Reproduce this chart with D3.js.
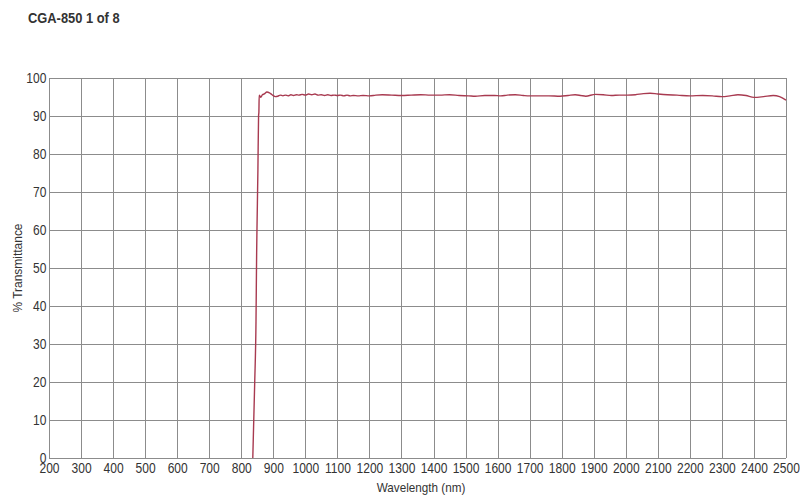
<!DOCTYPE html>
<html>
<head>
<meta charset="utf-8">
<script src="https://cdn.jsdelivr.net/npm/d3@7/dist/d3.min.js"></script>
<style>
  body { margin: 0; background: #fff; }
  svg { display: block; }
  text { font-family: "Liberation Sans", Arial, sans-serif; fill: #333; }
</style>
</head>
<body>
<svg id="chart" width="800" height="499"></svg>
<script>
const title = "CGA-850 1 of 8";
const xLabel = "Wavelength (nm)";
const yLabel = "% Transmittance";
const xTicks = [200,300,400,500,600,700,800,900,1000,1100,1200,1300,1400,1500,1600,1700,1800,1900,2000,2100,2200,2300,2400,2500];
const yTicks = [0,10,20,30,40,50,60,70,80,90,100];
const wavelength = [836,839,842,846,848,849,852,854,855,856,858,861,866,872,880,888,896,906,914,922,930,938,946,955,963,972,980,990,1000,1010,1020,1030,1040,1050,1060,1070,1080,1090,1100,1110,1120,1130,1140,1150,1165,1180,1200,1220,1240,1270,1300,1330,1360,1390,1420,1450,1480,1510,1530,1560,1590,1610,1630,1655,1680,1700,1730,1760,1795,1820,1842,1860,1875,1905,1930,1955,1980,2005,2030,2055,2076,2100,2130,2160,2200,2240,2270,2300,2325,2350,2375,2400,2430,2460,2480,2500];
const transmittance = [0,10,20,36,54,60,76,90,91,95.5,95.3,94.9,95.6,95.8,96.3,96.1,95.6,95.1,95.2,95.5,95.3,95.5,95.3,95.6,95.4,95.6,95.5,95.7,95.5,95.8,95.6,95.8,95.5,95.6,95.4,95.6,95.4,95.5,95.4,95.5,95.3,95.5,95.3,95.4,95.3,95.4,95.3,95.5,95.6,95.5,95.4,95.5,95.6,95.5,95.5,95.6,95.4,95.3,95.2,95.4,95.4,95.3,95.5,95.6,95.4,95.3,95.3,95.3,95.2,95.4,95.6,95.4,95.2,95.7,95.6,95.4,95.5,95.5,95.6,95.9,96.0,95.8,95.6,95.5,95.3,95.4,95.3,95.1,95.3,95.6,95.4,94.9,95.1,95.4,95.1,94.2];

const svg = d3.select("#chart");
const L = 49, R = 786, T = 78, B = 458;
const x = d3.scaleLinear().domain([200, 2500]).range([L, R]);
const y = d3.scaleLinear().domain([0, 100]).range([B, T]);
const SX = 0.86;

// grid
const g = svg.append("g").attr("shape-rendering", "crispEdges");
g.selectAll("line.vx").data(xTicks).join("line")
  .attr("x1", d => Math.round(x(d)) + 0.5).attr("x2", d => Math.round(x(d)) + 0.5)
  .attr("y1", T).attr("y2", B)
  .attr("stroke", "#8c8c8c").attr("stroke-width", 1);
g.selectAll("line.hy").data(yTicks).join("line")
  .attr("y1", d => Math.round(y(d)) + 0.5).attr("y2", d => Math.round(y(d)) + 0.5)
  .attr("x1", L).attr("x2", R)
  .attr("stroke", "#8c8c8c").attr("stroke-width", 1);

// axes labels
const xAxis = d3.axisBottom(x).tickValues(xTicks).tickSize(0).tickPadding(5).tickFormat(d3.format("d"));
const xg = svg.append("g").attr("transform", `translate(0,${B})`).call(xAxis);
xg.select(".domain").remove();
xg.selectAll("text").style("font-size", "14px").attr("fill", "#333")
  .attr("transform", `scale(${SX},1)`);

const yAxis = d3.axisLeft(y).tickValues(yTicks).tickSize(0).tickPadding(3).tickFormat(d3.format("d"));
const yg = svg.append("g").attr("transform", `translate(${L},0)`).call(yAxis);
yg.select(".domain").remove();
yg.selectAll("text").style("font-size", "14px").attr("fill", "#333")
  .attr("transform", `scale(${SX},1)`);

// curve
const pts = wavelength.map((w, i) => [w, transmittance[i]]);
const line = d3.line().x(d => x(d[0])).y(d => y(d[1])).curve(d3.curveMonotoneX);
svg.append("path").datum(pts)
  .attr("d", line).attr("fill", "none")
  .attr("stroke", "#a83a50").attr("stroke-width", 1.4).attr("stroke-linejoin", "round");

// titles
svg.append("text").attr("transform", `translate(28,23) scale(${SX},1)`)
  .style("font-size", "15px").style("font-weight", "bold").attr("fill", "#333")
  .text(title);
svg.append("text").attr("transform", `translate(421,492) scale(0.9,1)`).attr("text-anchor", "middle")
  .style("font-size", "13px").text(xLabel);
svg.append("text").attr("transform", "translate(22,268) rotate(-90) scale(0.92,1)").attr("text-anchor", "middle")
  .style("font-size", "13px").text(yLabel);
</script>
</body>
</html>
